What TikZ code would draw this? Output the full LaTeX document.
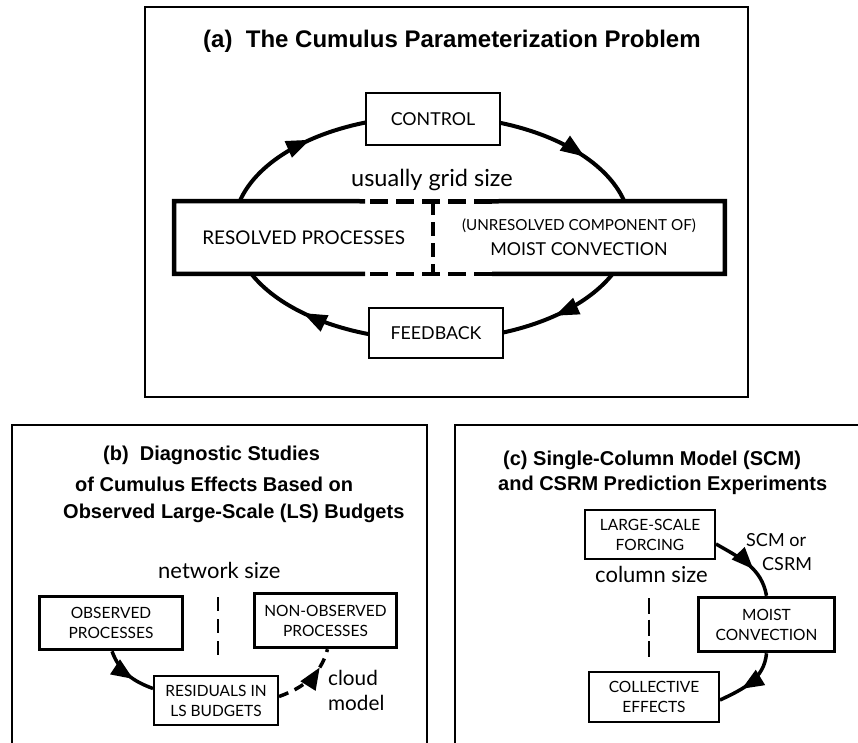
\documentclass[tikz,border=0pt]{standalone}
\usepackage{fontspec}
\setmainfont{Lato}
\newfontfamily\ttlfont{Liberation Sans}
\usetikzlibrary{arrows.meta,decorations.markings}
\newcommand\setfs[2]{\fontsize{#1}{#2}\selectfont}
\begin{document}
\begin{tikzpicture}[x=1pt,y=1pt,
  panelline/.style={line width=1.8pt},
  loopline/.style={line width=4pt},
  looptip/.style={postaction={decorate},decoration={markings,mark=at position #1 with {\arrow{Triangle[length=24pt,width=17pt]}}}},
  thinbox/.style={draw,line width=2pt,fill=white,inner sep=0pt,align=center,font=\setfs{15.5}{20}},
  thickbox/.style={draw,line width=3.5pt,fill=white,inner sep=0pt,align=center,font=\setfs{15.5}{20}},
  bigedge/.style={line width=4.5pt},
  ttla/.style={anchor=base west,inner sep=0pt,font=\ttlfont\bfseries\setfs{24}{28}},
  ttl/.style={anchor=base west,inner sep=0pt,font=\ttlfont\bfseries\setfs{20}{24}},
  lbl/.style={anchor=base west,inner sep=0pt,font=\setfs{22}{25}},
  flow/.style={line width=3.5pt},
  midtip/.style={postaction={decorate},decoration={markings,mark=at position #1 with {\arrow{Triangle[length=22pt,width=17pt]}}}},
  sizeline/.style={line width=2pt},
]
\useasboundingbox (0,0) rectangle (858,-742);
\fill[white] (0,0) rectangle (858,-742);

% ---------------- panel (a)
\draw[panelline] (145,-7) rectangle (748,-397);
\node[ttla] (ta) at (203,-47) {(a)\ \ The Cumulus Parameterization Problem};

\coordinate (ec) at (432,-228);
\draw[loopline,looptip=0.575] ([shift={(168:198 and 112)}]ec) arc[start angle=168,end angle=105,x radius=198,y radius=112];
\draw[loopline,looptip=0.629] ([shift={(75:198 and 112)}]ec) arc[start angle=75,end angle=12,x radius=198,y radius=112];
\draw[loopline,looptip=0.531] ([shift={(-22:198 and 112)}]ec) arc[start angle=-22,end angle=-73,x radius=198,y radius=112];
\draw[loopline,looptip=0.522] ([shift={(-105:198 and 112)}]ec) arc[start angle=-105,end angle=-160,x radius=198,y radius=112];

\node[thinbox,minimum width=134pt,minimum height=52pt,font=\setfs{17.8}{20}] (control) at (433,-119) {CONTROL};
\node[thinbox,minimum width=134pt,minimum height=50pt,font=\setfs{17.8}{20}] (feedback) at (436,-333) {FEEDBACK};
\node[lbl,font=\setfs{23.5}{25}] (grid) at (351,-186) {usually grid size};

\node[fill=white,inner sep=0pt,minimum width=258.75pt,minimum height=72.5pt,font=\setfs{18.9}{20}] (res) at (303.6,-237.5) {RESOLVED PROCESSES};
\node[fill=white,inner sep=0pt,minimum width=291.75pt,minimum height=72.5pt,align=center,font=\setfs{17.8}{25}] (unres) at (578.9,-237.5) {{\setfs{15.2}{25}(UNRESOLVED COMPONENT OF)}\\MOIST CONVECTION};
\draw[bigedge] (365,-201.25) -- (res.north west) -- (res.south west) -- (365,-273.75);
\draw[bigedge] (492,-201.25) -- (unres.north east) -- (unres.south east) -- (492,-273.75);
\draw[bigedge,dash pattern=on 18pt off 8pt,dash phase=21pt] (365,-201.25) -- (492,-201.25);
\draw[bigedge,dash pattern=on 18pt off 8pt,dash phase=21pt] (365,-273.75) -- (492,-273.75);
\draw[line width=4pt,dash pattern=on 14pt off 7pt] (res.north east) -- (res.south east);

% ---------------- panel (b)
\draw[panelline] (12,-745) -- (12,-425) -- (427,-425) -- (427,-745);
\node[ttl] (tb1) at (103,-460) {(b)\ \ Diagnostic Studies};
\node[ttl] (tb2) at (75,-491) {of Cumulus Effects Based on};
\node[ttl] (tb3) at (63,-518) {Observed Large-Scale (LS) Budgets};
\node[lbl] (net) at (158,-578) {network size};
\node[thickbox,minimum width=143pt,minimum height=53pt] (obs) at (111,-623) {OBSERVED\\PROCESSES};
\node[thickbox,minimum width=142pt,minimum height=54pt] (nonobs) at (325.5,-620.5) {NON-OBSERVED\\PROCESSES};
\node[thinbox,minimum width=124pt,minimum height=49pt] (resid) at (216,-700.5) {RESIDUALS IN\\LS BUDGETS};
\draw[sizeline,dash pattern=on 14pt off 8pt] (218,-597) -- (218,-655);
\node[lbl,align=left,anchor=north west,font=\setfs{20.7}{25}] (cloud) at (328,-670) {cloud\\model};
\draw[flow,midtip=0.62] ([xshift=1pt]obs.south) to[out=-70,in=160] ([yshift=12pt]resid.west);
\draw[flow,dash pattern=on 10pt off 7pt,midtip=0.72] ([yshift=4pt]resid.east) to[out=20,in=-105] ([xshift=2pt]nonobs.south);

% ---------------- panel (c)
\draw[panelline] (455,-745) -- (455,-425) -- (860,-425);
\node[ttl] (tc1) at (503,-465) {(c) Single-Column Model (SCM)};
\node[ttl] (tc2) at (498,-490) {and CSRM Prediction Experiments};
\node[thinbox,minimum width=130pt,minimum height=49pt] (lsf) at (650,-534.5) {LARGE-SCALE\\FORCING};
\node[thickbox,minimum width=136pt,minimum height=54pt] (moist) at (766.5,-624.5) {MOIST\\CONVECTION};
\node[thinbox,minimum width=130pt,minimum height=50pt] (coll) at (654,-697) {COLLECTIVE\\EFFECTS};
\node[lbl] (col) at (595,-582) {column size};
\node[lbl,align=left,anchor=north west,font=\setfs{18}{24}] (scm) at (746,-533) {SCM or\\\hspace*{16pt}CSRM};
\draw[sizeline,dash pattern=on 16pt off 5.5pt] (649,-598) -- (649,-657);
\draw[flow,midtip=0.6] ([yshift=-9.5pt]lsf.east) to[out=-30,in=100] (moist.north);
\draw[flow,midtip=0.65] (moist.south) to[out=-95,in=25] ([yshift=-3pt]coll.east);
\end{tikzpicture}
\end{document}
